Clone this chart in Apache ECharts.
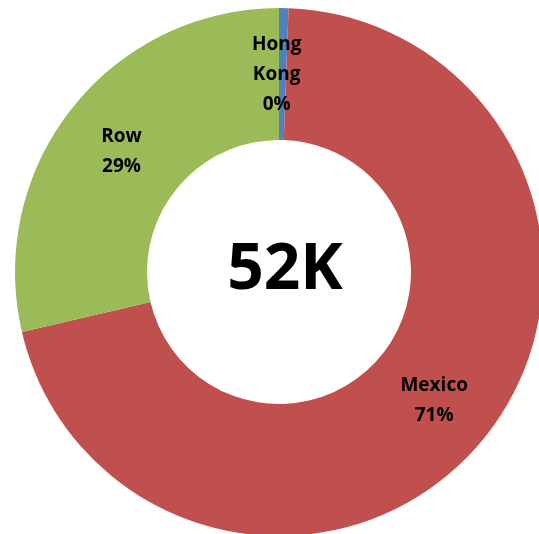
<!DOCTYPE html>
<html>
<head>
<meta charset="utf-8">
<script src="https://cdn.jsdelivr.net/npm/echarts@6/dist/echarts.min.js"></script>
<style>
  html, body { margin: 0; padding: 0; background: #ffffff; }
  #chart { width: 539px; height: 534px; }
</style>
</head>
<body>
<div id="chart"></div>
<script>
// Shipment shares by destination (thousands)
const categories = ['Hong Kong', 'Mexico', 'Row'];
const values = [0.3, 36.8, 14.9];
const percentLabels = ['0%', '71%', '29%'];
const totalLabel = '52K';
const colors = ['#4F81BD', '#C0504D', '#9BBB59'];

// small nudges for the inside labels
const labelOffsets = { 'Hong Kong': [-6, 4], 'Mexico': [0, 1], 'Row': [0, 5] };

const chart = echarts.init(document.getElementById('chart'), null, { renderer: 'canvas' });

const data = categories.map((name, i) => ({
  name: name,
  value: values[i],
  itemStyle: { color: colors[i] },
  label: {
    formatter: (name === 'Hong Kong' ? 'Hong\nKong' : name) + '\n' + percentLabels[i],
    offset: labelOffsets[name]
  }
}));

chart.setOption({
  animation: false,
  backgroundColor: '#ffffff',
  title: {
    text: totalLabel,
    left: 280,
    top: 266,
    textAlign: 'center',
    textVerticalAlign: 'middle',
    textStyle: {
      fontFamily: 'Open Sans',
      fontWeight: 'bold',
      fontSize: 64,
      color: '#000000'
    }
  },
  series: [{
    type: 'pie',
    center: [279, 272],
    radius: [132, 264],
    startAngle: 90,
    clockwise: true,
    avoidLabelOverlap: false,
    label: {
      show: true,
      position: 'inside',
      fontFamily: 'Open Sans',
      fontWeight: 'bold',
      fontSize: 19,
      lineHeight: 30,
      color: '#000000',
      align: 'center'
    },
    labelLine: { show: false },
    itemStyle: { borderWidth: 0 },
    emphasis: { disabled: true },
    data: data
  }]
});
</script>
</body>
</html>
